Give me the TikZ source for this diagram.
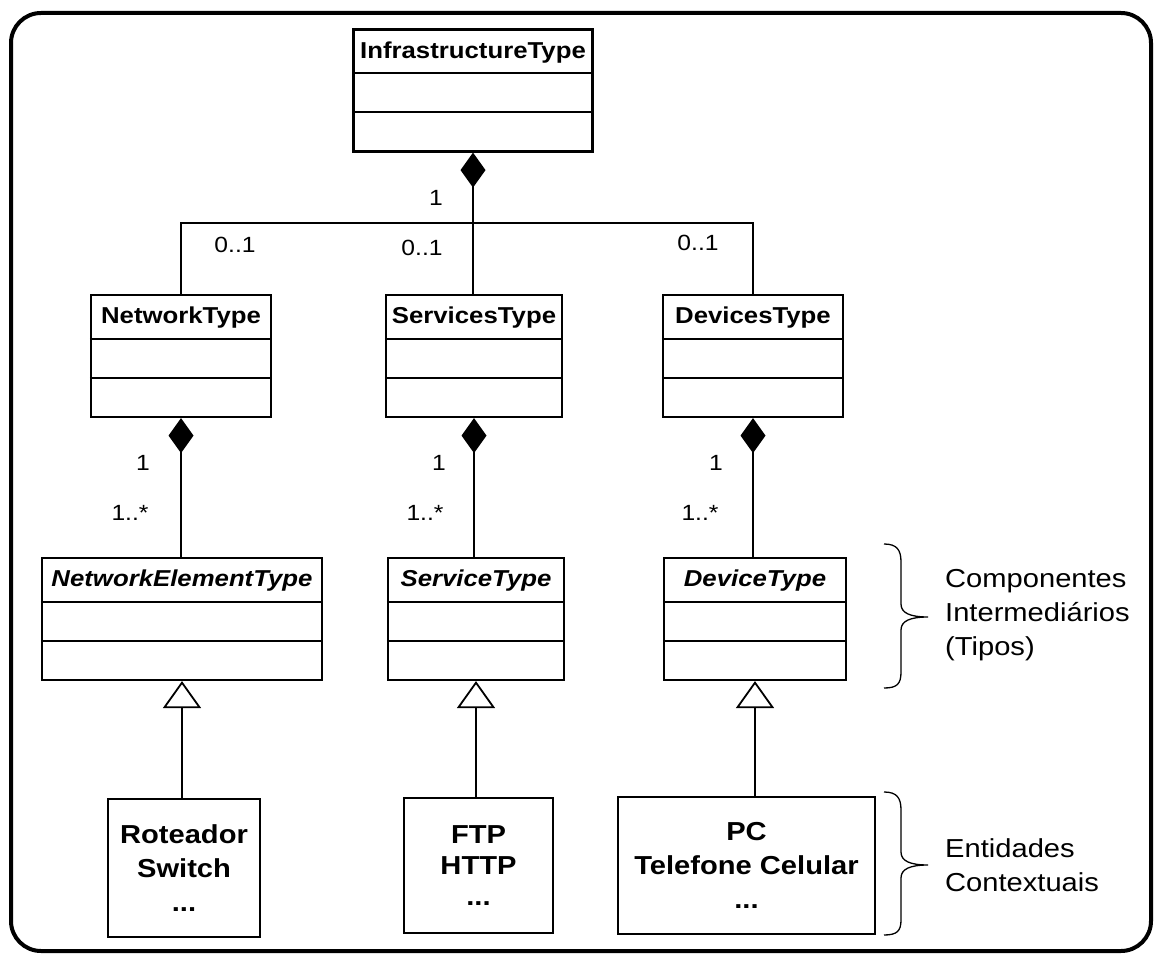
\documentclass[tikz,border=0pt]{standalone}
\usepackage{fontspec}
\setmainfont{Liberation Sans}[FakeStretch=1.12]
\usetikzlibrary{arrows.meta}

% UML class box: name, x, y (centre), width, title font style, title
\newcommand{\umlclass}[6]{%
  \node[clsbox, minimum width=#4] (#1) at (#2,#3) {};
  \node[clstitle, #5] (#1-t) at ([yshift=-24pt]#1.north) {#6};
  \draw[clsbox] ([yshift=-45pt]#1.north west) -- ([yshift=-45pt]#1.north east);
  \draw[clsbox] ([yshift=-84pt]#1.north west) -- ([yshift=-84pt]#1.north east);
}

\begin{document}
\begin{tikzpicture}[x=1pt,y=-1pt,
  clsbox/.style={draw, line width=2.2pt, minimum height=122pt, inner sep=0pt},
  clstitle/.style={font=\fontsize{23}{28}\selectfont\bfseries, inner sep=0pt},
  abstract/.style={font=\fontsize{23}{28}\selectfont\bfseries\itshape},
  plain/.style={},
  objbox/.style={draw, line width=2.2pt, inner sep=0pt, align=center,
                 font=\fontsize{26}{34}\selectfont\bfseries},
  mult/.style={font=\fontsize{22}{26}\selectfont, inner sep=0pt},
  link/.style={line width=1.8pt},
  comp/.style={{Diamond[length=35pt,width=25pt]}-},
  gen/.style={-{Triangle[open,length=27pt,width=38pt]}},
  sidenote/.style={font=\fontsize{26}{34}\selectfont, align=left, anchor=west, inner sep=0pt},
  curly/.style={line width=1.3pt}
]
\useasboundingbox (0,0) rectangle (1154,957);

% outer frame
\draw[line width=4pt, rounded corners=30pt] (11,13) rectangle (1151,951);

% class boxes
\umlclass{infra}{473}{90.5}{239pt}{plain}{InfrastructureType}
\umlclass{network}{181}{356}{180pt}{plain}{NetworkType}
\umlclass{services}{474}{356}{176pt}{plain}{ServicesType}
\umlclass{devices}{753}{356}{180pt}{plain}{DevicesType}
\umlclass{netelem}{182}{619}{280pt}{abstract}{NetworkElementType}
\umlclass{servtype}{476}{619}{176pt}{abstract}{ServiceType}
\umlclass{devtype}{755}{619}{182pt}{abstract}{DeviceType}

% concrete entities
\node[objbox, minimum width=152pt, minimum height=138pt] (rot) at (184,868)
  {Roteador\\Switch\\...};
\node[objbox, minimum width=149pt, minimum height=135pt,
      font=\fontsize{26}{31}\selectfont\bfseries] (ftp) at (478.5,865.5)
  {FTP\\HTTP\\...};
\node[objbox, minimum width=257pt, minimum height=137pt] (pc) at (746.5,865.5)
  {PC\\Telefone Celular\\...};

% composition: infrastructure -> network / services / devices
\coordinate (bar) at (473,223);
\draw[link,comp] (infra.south) -- (infra.south |- services.north);
\draw[link] (network.north) -- (network.north |- bar) -- (devices.north |- bar) -- (devices.north);

% composition: containers -> element types
\draw[link,comp] (network.south) -- (network.south |- netelem.north);
\draw[link,comp] (services.south) -- (services.south |- servtype.north);
\draw[link,comp] (devices.south) -- (devices.south |- devtype.north);

% generalisation: entities -> types
\draw[link,gen] (netelem.south |- rot.north) -- (netelem.south);
\draw[link,gen] (servtype.south |- ftp.north) -- (servtype.south);
\draw[link,gen] (devtype.south |- pc.north) -- (devtype.south);

% multiplicities
\node[mult] (m0) at (436,198) {1};
\node[mult] (m1) at (235,245) {0..1};
\node[mult] (m2) at (422,248) {0..1};
\node[mult] (m3) at (698,243) {0..1};
\node[mult] (m4) at (143,463) {1};
\node[mult] (m5) at (439,463) {1};
\node[mult] (m6) at (716,463) {1};
\node[mult] (m7) at (130,513) {1..*};
\node[mult] (m8) at (425,513) {1..*};
\node[mult] (m9) at (700,513) {1..*};

% braces and their notes
\draw[curly] (884,544) .. controls (897,544) and (901,550) .. (901,562)
  -- (901,604) .. controls (901,613) and (910,617) .. (928,617)
  .. controls (910,617) and (901,621) .. (901,630)
  -- (901,672) .. controls (901,684) and (897,688) .. (884,688);
\draw[curly] (884,792) .. controls (897,792) and (901,798) .. (901,810)
  -- (901,852) .. controls (901,861) and (910,865) .. (928,865)
  .. controls (910,865) and (901,869) .. (901,878)
  -- (901,920) .. controls (901,931) and (897,935) .. (884,935);
\node[sidenote] (n1) at (945,615) {Componentes\\Intermediários\\(Tipos)};
\node[sidenote] (n2) at (945,865) {Entidades\\Contextuais};
\end{tikzpicture}
\end{document}
